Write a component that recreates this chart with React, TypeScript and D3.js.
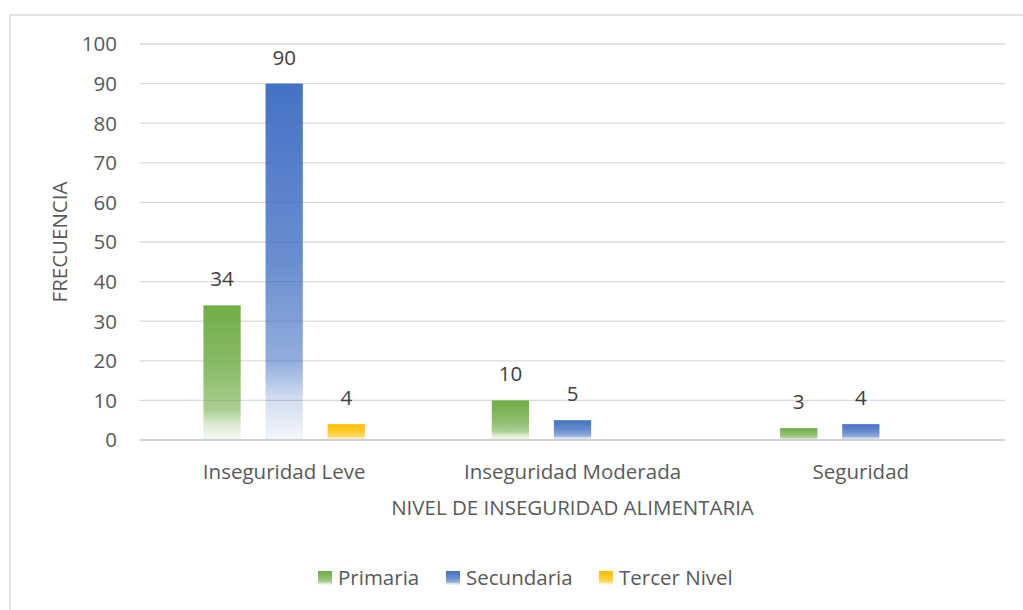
import React, { useEffect, useRef } from 'react';
import * as d3 from 'd3';

const categories = ['Inseguridad Leve', 'Inseguridad Moderada', 'Seguridad'];
const seriesNames = ['Primaria', 'Secundaria', 'Tercer Nivel'];
const primaria = [34, 10, 3];
const secundaria = [90, 5, 4];
const tercerNivel = [4, null, null];
const yTicks = [0, 10, 20, 30, 40, 50, 60, 70, 80, 90, 100];
const colors = ['#70AD47', '#4472C4', '#FFC000'];

const FONT = "'Open Sans', sans-serif";
const TEXT = '#595959';
const FS = '20.5px';

const App: React.FC = () => {
  const svgRef = useRef<SVGSVGElement>(null);

  useEffect(() => {
    if (!svgRef.current) return;
    const svg = d3.select(svgRef.current);
    svg.selectAll('*').remove();

    const width = 1023;
    const height = 610;
    const plot = { left: 140, right: 1005, top: 44, bottom: 440 };

    svg.attr('width', width).attr('height', height).style('font-family', FONT);

    // gradients (solid at top, fading to white at the bottom)
    const defs = svg.append('defs');
    colors.forEach((c, i) => {
      const grad = defs.append('linearGradient')
        .attr('id', `grad${i}`)
        .attr('x1', 0).attr('y1', 0).attr('x2', 0).attr('y2', 1);
      const stops: [number, number][] = [[0, 1], [0.5, 0.8], [0.78, 0.58], [0.88, 0.25], [1, 0.06]];
      stops.forEach(([o, a]) => {
        grad.append('stop').attr('offset', o).attr('stop-color', c).attr('stop-opacity', a);
      });
    });

    // chart border
    svg.append('rect')
      .attr('x', 10).attr('y', 15)
      .attr('width', width + 10).attr('height', height + 10)
      .attr('fill', '#fff')
      .attr('stroke', '#d9d9d9')
      .attr('stroke-width', 1.5);

    const y = d3.scaleLinear().domain([0, 100]).range([plot.bottom, plot.top]);
    const x0 = d3.scaleBand<string>()
      .domain(categories)
      .range([plot.left, plot.right])
      .paddingInner(0.44)
      .paddingOuter(0.22);
    const x1 = d3.scaleBand<string>()
      .domain(seriesNames)
      .range([0, x0.bandwidth()])
      .paddingInner(0.4);

    // gridlines
    svg.append('g').selectAll('line')
      .data(yTicks.filter(t => t > 0))
      .join('line')
      .attr('x1', plot.left).attr('x2', plot.right)
      .attr('y1', d => y(d)).attr('y2', d => y(d))
      .attr('stroke', '#d9d9d9')
      .attr('stroke-width', 1.3);

    // y tick labels
    svg.append('g').selectAll('text')
      .data(yTicks)
      .join('text')
      .attr('x', 117)
      .attr('y', d => y(d))
      .attr('dy', '0.36em')
      .attr('text-anchor', 'end')
      .attr('fill', TEXT)
      .style('font-size', FS)
      .text(d => d);

    // bars
    const seriesValues = [primaria, secundaria, tercerNivel];
    seriesNames.forEach((name, si) => {
      const vals = seriesValues[si];
      const g = svg.append('g');
      categories.forEach((cat, ci) => {
        const v = vals[ci];
        if (v == null) return;
        const bx = (x0(cat) as number) + (x1(name) as number);
        g.append('rect')
          .attr('x', bx)
          .attr('y', y(v))
          .attr('width', x1.bandwidth())
          .attr('height', y(0) - y(v))
          .attr('fill', `url(#grad${si})`);
        g.append('text')
          .attr('x', bx + x1.bandwidth() / 2)
          .attr('y', y(v) - 19)
          .attr('text-anchor', 'middle')
          .attr('fill', '#404040')
          .style('font-size', FS)
          .text(v);
      });
    });

    // baseline
    svg.append('line')
      .attr('x1', plot.left).attr('x2', plot.right)
      .attr('y1', y(0)).attr('y2', y(0))
      .attr('stroke', '#d0d0d0')
      .attr('stroke-width', 1.8);

    // category labels
    svg.append('g').selectAll('text')
      .data(categories)
      .join('text')
      .attr('x', d => (x0(d) as number) + x0.bandwidth() / 2)
      .attr('y', 479)
      .attr('text-anchor', 'middle')
      .attr('fill', TEXT)
      .style('font-size', FS)
      .text(d => d);

    // axis titles
    svg.append('text')
      .attr('x', (plot.left + plot.right) / 2)
      .attr('y', 515)
      .attr('text-anchor', 'middle')
      .attr('fill', TEXT)
      .style('font-size', FS)
      .text('NIVEL DE INSEGURIDAD ALIMENTARIA');

    svg.append('text')
      .attr('transform', `translate(67,242) rotate(-90)`)
      .attr('text-anchor', 'middle')
      .attr('fill', TEXT)
      .style('font-size', FS)
      .text('FRECUENCIA');

    // legend
    const legendX = [318, 446, 599];
    const legend = svg.append('g');
    seriesNames.forEach((name, i) => {
      legend.append('rect')
        .attr('x', legendX[i]).attr('y', 571)
        .attr('width', 14).attr('height', 14)
        .attr('fill', `url(#grad${i})`);
      legend.append('text')
        .attr('x', legendX[i] + 20)
        .attr('y', 578)
        .attr('dy', '0.36em')
        .attr('fill', TEXT)
        .style('font-size', FS)
        .text(name);
    });
  }, []);

  return (
    <div style={{ position: 'absolute', left: 0, top: 0 }}>
      <svg ref={svgRef}></svg>
    </div>
  );
};

export default App;
